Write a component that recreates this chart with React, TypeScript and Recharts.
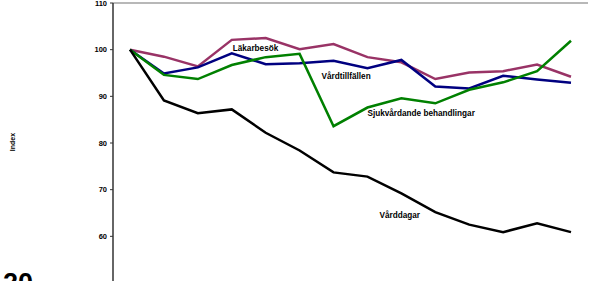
import React from 'react';
import {
  LineChart,
  Line,
  XAxis,
  YAxis,
  ReferenceLine,
  ReferenceDot
} from 'recharts';

const years = ['1990', '1991', '1992', '1993', '1994', '1995', '1996', '1997', '1998', '1999', '2000', '2001', '2002', '2003'];

const lakarbesok = [100, 98.5, 96.4, 102.1, 102.5, 100.1, 101.2, 98.4, 97.3, 93.7, 95.1, 95.4, 96.8, 94.2];
const vardtillfallen = [100, 94.9, 96.2, 99.2, 96.9, 97.1, 97.6, 96.0, 97.8, 92.1, 91.7, 94.4, 93.6, 92.9];
const sjukvardande = [100, 94.6, 93.7, 96.7, 98.4, 99.1, 83.6, 87.6, 89.6, 88.5, 91.4, 93.0, 95.4, 101.9];
const varddagar = [100, 89.1, 86.4, 87.2, 82.2, 78.4, 73.7, 72.8, 69.2, 65.2, 62.5, 60.9, 62.8, 60.9];

const yTicks = [50, 60, 70, 80, 90, 100, 110];

const COLORS = {
  lakarbesok: '#993366',
  vardtillfallen: '#000080',
  sjukvardande: '#008000',
  varddagar: '#000000'
};

const FONT = 'Arial, "Liberation Sans", Helvetica, sans-serif';

const data = years.map((year, i) => ({
  year,
  lakarbesok: lakarbesok[i],
  vardtillfallen: vardtillfallen[i],
  sjukvardande: sjukvardande[i],
  varddagar: varddagar[i]
}));

// series names written inside the plot, placed in data coordinates
const seriesLabels = [
  { text: 'Läkarbesök', year: '1993', value: 100.3, dx: 1 },
  { text: 'Vårdtillfällen', year: '1996', value: 94.3, dx: -12 },
  { text: 'Sjukvårdande behandlingar', year: '1997', value: 86.4, dx: 0 },
  { text: 'Vårddagar', year: '1997', value: 64.5, dx: 12 }
];

const App = () => {
  return (
    <div
      style={{
        position: 'fixed',
        left: 0,
        top: 0,
        width: 591,
        height: 281,
        overflow: 'hidden',
        background: '#ffffff',
        fontFamily: FONT
      }}
    >
      <LineChart
        width={591}
        height={300}
        data={data}
        margin={{ top: 3, right: 3, left: 0, bottom: 17 }}
      >
        <XAxis dataKey="year" hide padding={{ left: 17, right: 17 }} />
        <YAxis
          yAxisId="left"
          width={113}
          domain={[50, 110]}
          ticks={yTicks}
          interval={0}
          tickSize={3}
          tickMargin={3}
          axisLine={{ stroke: '#333333', strokeWidth: 1.5 }}
          tickLine={{ stroke: '#333333' }}
          tick={{ fontSize: 7.5, fontWeight: 'bold', fill: '#000', fontFamily: FONT }}
          label={{
            content: () => (
              <text
                x={12}
                y={142}
                transform="rotate(-90 12 142)"
                textAnchor="middle"
                dominantBaseline="central"
                fontSize={7}
                fontWeight="bold"
                fontFamily={FONT}
                fill="#000"
              >
                Index
              </text>
            )
          }}
        />
        <YAxis
          yAxisId="right"
          orientation="right"
          width={0}
          domain={[50, 110]}
          tick={false}
          tickLine={false}
          axisLine={{ stroke: '#a0a0a0', strokeWidth: 1.5 }}
        />
        <ReferenceLine yAxisId="left" y={110} stroke="#a0a0a0" strokeWidth={1.5} />
        <Line
          yAxisId="left"
          type="linear"
          dataKey="lakarbesok"
          stroke={COLORS.lakarbesok}
          strokeWidth={2.5}
          dot={false}
          isAnimationActive={false}
        />
        <Line
          yAxisId="left"
          type="linear"
          dataKey="vardtillfallen"
          stroke={COLORS.vardtillfallen}
          strokeWidth={2.5}
          dot={false}
          isAnimationActive={false}
        />
        <Line
          yAxisId="left"
          type="linear"
          dataKey="sjukvardande"
          stroke={COLORS.sjukvardande}
          strokeWidth={2.5}
          dot={false}
          isAnimationActive={false}
        />
        <Line
          yAxisId="left"
          type="linear"
          dataKey="varddagar"
          stroke={COLORS.varddagar}
          strokeWidth={2.5}
          dot={false}
          isAnimationActive={false}
        />
        {seriesLabels.map((l) => (
          <ReferenceDot
            key={l.text}
            yAxisId="left"
            x={l.year}
            y={l.value}
            r={0}
            shape={(p: any) => (
              <text
                x={p.cx + l.dx}
                y={p.cy}
                dominantBaseline="central"
                fontSize={8.2}
                fontWeight="bold"
                fontFamily={FONT}
                fill="#000"
              >
                {l.text}
              </text>
            )}
          />
        ))}
      </LineChart>
      <div
        style={{
          position: 'absolute',
          left: 3,
          top: 270,
          fontSize: 27,
          lineHeight: '27px',
          fontWeight: 'bold',
          fontFamily: FONT
        }}
      >
        20
      </div>
    </div>
  );
};

export default App;
